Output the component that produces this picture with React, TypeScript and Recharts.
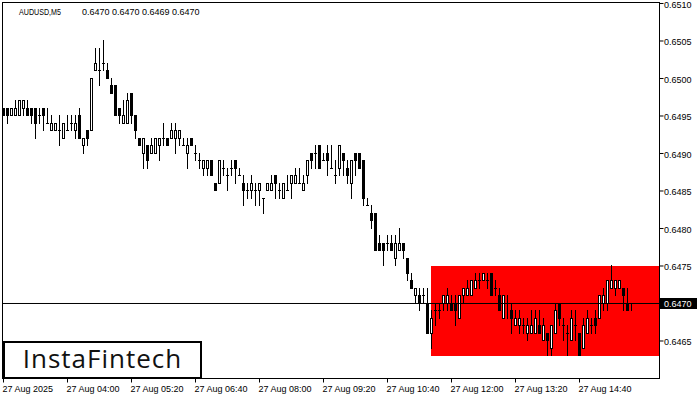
import { ComposedChart, Bar, XAxis, YAxis, ReferenceArea, ReferenceLine } from 'recharts';

// AUDUSD M5 candles, bar 0 = 27 Aug 02:40
const opens = [
  0.6496, 0.6496, 0.6495, 0.6495, 0.6495, 0.6496, 0.6496, 0.6496, 0.6496, 0.6495,
  0.6496, 0.6494, 0.6493, 0.6493, 0.6493, 0.6492, 0.6493, 0.6494, 0.6493, 0.6495,
  0.6491, 0.6493, 0.6493, 0.6501, 0.6501, 0.6502, 0.6501, 0.6499, 0.6499, 0.6496,
  0.6494, 0.6494, 0.6498, 0.6495, 0.6492, 0.649, 0.6491, 0.649, 0.649, 0.6491,
  0.6492, 0.6492, 0.6492, 0.6492, 0.6492, 0.6491, 0.649, 0.6492, 0.649, 0.6489,
  0.6488, 0.6488, 0.6489, 0.6486, 0.6486, 0.6488, 0.6487, 0.6488, 0.6489, 0.6487,
  0.6486, 0.6485, 0.6485, 0.6485, 0.6485, 0.6484, 0.6485, 0.6485, 0.6487, 0.6485,
  0.6484, 0.6485, 0.6486, 0.6486, 0.6486, 0.6485, 0.6487, 0.649, 0.649, 0.6491,
  0.6489, 0.649, 0.6488, 0.6487, 0.6488, 0.649, 0.6488, 0.6486, 0.649, 0.649,
  0.6489, 0.6483, 0.6482, 0.6482, 0.6478, 0.6478, 0.6478, 0.6478, 0.6476, 0.6477,
  0.6478, 0.6476, 0.6473, 0.6471, 0.6471, 0.6471, 0.647, 0.6466, 0.6469, 0.6469,
  0.647, 0.647, 0.647, 0.647, 0.6468, 0.6471, 0.6471, 0.6471, 0.6472, 0.6473,
  0.6473, 0.6473, 0.6474, 0.6472, 0.6471, 0.6468, 0.647, 0.6469, 0.6467, 0.6467,
  0.6467, 0.6466, 0.6466, 0.6466, 0.6467, 0.6465, 0.6466, 0.6464, 0.6466, 0.647,
  0.6467, 0.6466, 0.6465, 0.6467, 0.6466, 0.6464, 0.6466, 0.6467, 0.6468, 0.6468,
  0.647, 0.647, 0.6472, 0.6472, 0.6472, 0.6472, 0.647, 0.647,
];
const highs = [
  0.6496, 0.6496, 0.6496, 0.6497, 0.6497, 0.6497, 0.6497, 0.6496, 0.6496, 0.6496,
  0.6496, 0.6496, 0.6495, 0.6494, 0.6495, 0.6494, 0.6495, 0.6495, 0.6495, 0.6496,
  0.6492, 0.6493, 0.65, 0.6504, 0.6504, 0.6505, 0.6502, 0.65, 0.6499, 0.6496,
  0.6497, 0.6498, 0.6498, 0.6495, 0.6492, 0.6492, 0.6491, 0.6492, 0.6492, 0.6492,
  0.6494, 0.6492, 0.6494, 0.6494, 0.6493, 0.6492, 0.6492, 0.6492, 0.6491, 0.649,
  0.6489, 0.6489, 0.6489, 0.6486, 0.6489, 0.6489, 0.6488, 0.6489, 0.6489, 0.6488,
  0.6487, 0.6486, 0.6487, 0.6486, 0.6486, 0.6484, 0.6486, 0.6487, 0.6487, 0.6486,
  0.6486, 0.6487, 0.6487, 0.6488, 0.6488, 0.6487, 0.6489, 0.649, 0.6491, 0.6491,
  0.649, 0.6491, 0.6491, 0.6489, 0.6491, 0.649, 0.6489, 0.6489, 0.649, 0.649,
  0.6489, 0.6484, 0.6483, 0.6482, 0.6479, 0.6478, 0.6479, 0.6479, 0.6479, 0.648,
  0.6478, 0.6476, 0.6474, 0.6472, 0.6472, 0.6472, 0.6472, 0.6469, 0.647, 0.647,
  0.6471, 0.6472, 0.6471, 0.6471, 0.6471, 0.6472, 0.6473, 0.6473, 0.6474, 0.6474,
  0.6474, 0.6474, 0.6474, 0.6473, 0.6472, 0.6471, 0.6471, 0.647, 0.6469, 0.6469,
  0.6468, 0.6468, 0.6469, 0.6469, 0.6469, 0.6468, 0.6466, 0.6467, 0.647, 0.647,
  0.6468, 0.6467, 0.6469, 0.6469, 0.6466, 0.6468, 0.6469, 0.6468, 0.6469, 0.6471,
  0.6472, 0.6473, 0.6475, 0.6473, 0.6473, 0.6472, 0.6472, 0.647,
];
const lows = [
  0.6495, 0.6494, 0.6495, 0.6495, 0.6495, 0.6495, 0.6495, 0.6494, 0.6492, 0.6494,
  0.6493, 0.6494, 0.6493, 0.6493, 0.6491, 0.6492, 0.6493, 0.6493, 0.6492, 0.6492,
  0.649, 0.6491, 0.6493, 0.6501, 0.6499, 0.6501, 0.65, 0.6498, 0.6495, 0.6494,
  0.6494, 0.6494, 0.6494, 0.6492, 0.6491, 0.6488, 0.6488, 0.649, 0.649, 0.6489,
  0.6491, 0.6491, 0.6492, 0.649, 0.6491, 0.6491, 0.6488, 0.6491, 0.6489, 0.6488,
  0.6487, 0.6487, 0.6487, 0.6485, 0.6486, 0.6487, 0.6485, 0.6487, 0.6486, 0.6487,
  0.6483, 0.6484, 0.6484, 0.6483, 0.6483, 0.6482, 0.6485, 0.6485, 0.6484, 0.6484,
  0.6484, 0.6485, 0.6484, 0.6486, 0.6486, 0.6485, 0.6486, 0.6488, 0.6488, 0.6488,
  0.6489, 0.6487, 0.6488, 0.6486, 0.6487, 0.6487, 0.6486, 0.6484, 0.6487, 0.6488,
  0.6483, 0.6483, 0.648, 0.6477, 0.6477, 0.6475, 0.6477, 0.6477, 0.6475, 0.6477,
  0.6476, 0.6473, 0.6472, 0.647, 0.6469, 0.647, 0.6466, 0.6464, 0.6467, 0.6468,
  0.6469, 0.6469, 0.6469, 0.6467, 0.6468, 0.647, 0.6471, 0.6471, 0.6472, 0.6472,
  0.6473, 0.6472, 0.6471, 0.6471, 0.6469, 0.6468, 0.6468, 0.6466, 0.6467, 0.6466,
  0.6466, 0.6465, 0.6466, 0.6466, 0.6466, 0.6465, 0.6463, 0.6463, 0.6466, 0.6467,
  0.6465, 0.6463, 0.6465, 0.6465, 0.6463, 0.6464, 0.6466, 0.6466, 0.6466, 0.6468,
  0.6469, 0.6469, 0.6472, 0.6471, 0.6472, 0.6469, 0.6469, 0.6469,
];
const closes = [
  0.6495, 0.6495, 0.6496, 0.6496, 0.6497, 0.6497, 0.6495, 0.6495, 0.6494, 0.6495,
  0.6495, 0.6494, 0.6494, 0.6494, 0.6493, 0.6494, 0.6493, 0.6494, 0.6494, 0.6492,
  0.6492, 0.6492, 0.65, 0.6502, 0.6501, 0.6502, 0.65, 0.6498, 0.6495, 0.6495,
  0.6495, 0.6497, 0.6495, 0.6493, 0.6491, 0.6492, 0.6489, 0.6491, 0.6492, 0.6492,
  0.6492, 0.6491, 0.6493, 0.6493, 0.6493, 0.6491, 0.6491, 0.6491, 0.649, 0.6489,
  0.6489, 0.6489, 0.6487, 0.6485, 0.6489, 0.6488, 0.6487, 0.6488, 0.6488, 0.6487,
  0.6485, 0.6485, 0.6486, 0.6485, 0.6486, 0.6484, 0.6486, 0.6486, 0.6486, 0.6485,
  0.6486, 0.6485, 0.6487, 0.6487, 0.6486, 0.6486, 0.6489, 0.6489, 0.649, 0.6488,
  0.6489, 0.6489, 0.6488, 0.6487, 0.6491, 0.6489, 0.6487, 0.6489, 0.6489, 0.6488,
  0.6484, 0.6483, 0.6481, 0.6477, 0.6477, 0.6477, 0.6478, 0.6477, 0.6478, 0.6478,
  0.6477, 0.6474, 0.6472, 0.6472, 0.647, 0.6471, 0.6466, 0.6468, 0.6469, 0.6469,
  0.6471, 0.6471, 0.6469, 0.6469, 0.6471, 0.6472, 0.6472, 0.6473, 0.6473, 0.6473,
  0.6474, 0.6473, 0.6471, 0.6472, 0.6469, 0.6471, 0.647, 0.6468, 0.6468, 0.6468,
  0.6467, 0.6467, 0.6467, 0.6468, 0.6466, 0.6467, 0.6465, 0.6467, 0.6469, 0.6468,
  0.6467, 0.6466, 0.6468, 0.6467, 0.6463, 0.6467, 0.6468, 0.6467, 0.6467, 0.6471,
  0.6471, 0.6473, 0.6473, 0.6473, 0.6473, 0.6471, 0.6469, 0.647,
];

const tickBars = [0, 16, 32, 48, 64, 80, 96, 112, 128, 144];
const tickLabels = [
  '27 Aug 2025', '27 Aug 04:00', '27 Aug 05:20', '27 Aug 06:40', '27 Aug 08:00',
  '27 Aug 09:20', '27 Aug 10:40', '27 Aug 12:00', '27 Aug 13:20', '27 Aug 14:40',
];
const priceTicks = [0.6465, 0.647, 0.6475, 0.648, 0.6485, 0.649, 0.6495, 0.65, 0.6505, 0.651];
const symbol = 'AUDUSD,M5';
const lastPrice = 0.647;
// rectangle pattern
const patternStart = 106.875;
const patternTop = 0.6475;
const patternBottom = 0.6463;

const FONT = '"Liberation Sans", Arial, sans-serif';

const data = opens.map((o, i) => ({
  i,
  open: o,
  high: highs[i],
  low: lows[i],
  close: closes[i],
  range: [lows[i], highs[i]],
}));

function Candle(props: any) {
  const { x, y, width, height, payload } = props;
  if (x == null || !payload) return null;
  const { open, close, high, low } = payload;
  const yTop = Math.min(y, y + height);
  const yBot = Math.max(y, y + height);
  const py = (p: number) => yTop + ((high - p) / (high - low)) * (yBot - yTop);
  const cx = Math.floor(x + width / 2);
  const hi = Math.floor(py(high));
  const lo = Math.floor(py(low));
  const top = Math.floor(py(Math.max(open, close)));
  const bot = Math.floor(py(Math.min(open, close)));
  let body;
  if (bot === top) {
    body = <rect x={cx - 1} y={top} width={3} height={1} fill="#000" />;
  } else if (close > open) {
    body = (
      <rect x={cx - 0.5} y={top + 0.5} width={2} height={bot - top} fill="#fff" stroke="#000" strokeWidth={1} />
    );
  } else {
    body = <rect x={cx - 1} y={top} width={3} height={bot - top + 1} fill="#000" />;
  }
  return (
    <g>
      <rect x={cx} y={hi} width={1} height={lo - hi + 1} fill="#000" />
      {body}
    </g>
  );
}

function TimeTick({ x, y, payload }: any) {
  const idx = tickBars.indexOf(payload.value);
  return (
    <text x={x - 1} y={y} dy={7.5} textAnchor="start" fontSize={9} fontFamily={FONT} fill="#000">
      {tickLabels[idx]}
    </text>
  );
}

function PriceTick({ x, y, payload }: any) {
  const label = payload.value.toFixed(4);
  if (Math.abs(payload.value - lastPrice) < 1e-7) {
    return (
      <g>
        <rect x={x - 4} y={y - 5.5} width={37} height={11} fill="#000" />
        <text x={x} y={y} dy={3.5} textAnchor="start" fontSize={9} fontFamily={FONT} fill="#fff">
          {label}
        </text>
      </g>
    );
  }
  return (
    <text x={x} y={y} dy={4.5} textAnchor="start" fontSize={9} fontFamily={FONT} fill="#000">
      {label}
    </text>
  );
}

export default function App() {
  const last = data[data.length - 1];
  const ohlc = [last.open, last.high, last.low, last.close].map((v) => v.toFixed(4)).join(' ');
  return (
    <div style={{ position: 'absolute', left: 0, top: 0, width: 700, height: 400, background: '#fff' }}>
      <ComposedChart
        width={700}
        height={400}
        data={data}
        margin={{ top: 2.5, right: 0, bottom: 0, left: 2.5 }}
      >
        <XAxis
          type="number"
          dataKey="i"
          domain={[-0.25, 164]}
          allowDataOverflow
          ticks={tickBars}
          tick={<TimeTick />}
          tickSize={4}
          tickMargin={2}
          tickLine={{ stroke: '#000' }}
          axisLine={false}
          height={21.5}
          interval={0}
        />
        <YAxis
          orientation="right"
          type="number"
          domain={[0.646, 0.6510133]}
          allowDataOverflow
          ticks={priceTicks}
          tick={<PriceTick />}
          tickSize={4}
          tickMargin={0.5}
          tickLine={{ stroke: '#000' }}
          axisLine={false}
          width={40.5}
          interval={0}
        />
        <ReferenceArea
          x1={patternStart}
          x2={164}
          y1={patternBottom}
          y2={patternTop}
          fill="#ff0000"
          fillOpacity={1}
          stroke="none"
        />
        <ReferenceLine y={lastPrice} stroke="#000" strokeWidth={1} />
        <Bar dataKey="range" barSize={3} shape={<Candle />} isAnimationActive={false} />
      </ComposedChart>
      <div
        style={{
          position: 'absolute',
          left: 2,
          top: 2,
          width: 658,
          height: 377,
          border: '1px solid #000',
          boxSizing: 'border-box',
          pointerEvents: 'none',
        }}
      />
      <svg
        width={700}
        height={400}
        style={{ position: 'absolute', left: 0, top: 0, pointerEvents: 'none' }}
      >
        <text x={19} y={15} fontSize={9} fontFamily={FONT} fill="#000" textLength={42} lengthAdjust="spacingAndGlyphs">
          {symbol}
        </text>
        <text x={82} y={15} fontSize={9} fontFamily={FONT} fill="#000">
          {ohlc}
        </text>
        <rect x={4} y={342} width={197} height={36} fill="#fff" stroke="#000" strokeWidth={2} />
        <text
          x={102.5}
          y={367.5}
          textAnchor="middle"
          fontSize={26}
          fontWeight={500}
          letterSpacing={1}
          fontFamily='"Open Sans", sans-serif'
          fill="#111"
        >
          InstaFintech
        </text>
      </svg>
    </div>
  );
}
